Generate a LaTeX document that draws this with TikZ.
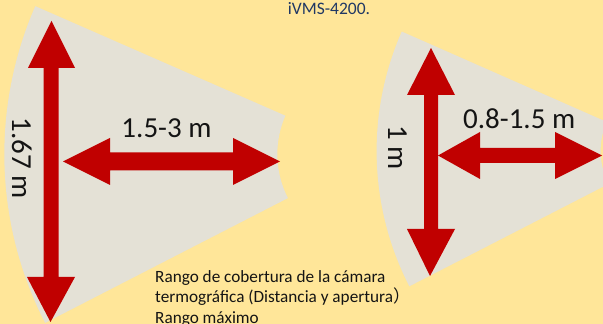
\documentclass[tikz,border=0pt]{standalone}
\usepackage{fontspec}
\usetikzlibrary{calc}
\setmainfont{Carlito}
\newfontfamily\cjkfont{Noto Sans CJK SC}
\definecolor{bgyellow}{RGB}{255,230,153}
\definecolor{fangray}{RGB}{228,225,214}
\definecolor{arrowred}{RGB}{192,0,0}
\definecolor{titleblue}{RGB}{32,56,100}
\definecolor{txtdark}{RGB}{20,20,20}
\tikzset{
  fan/.style={fill=fangray, draw=none},
  redarrow/.style={fill=arrowred, draw=none},
  biglabel/.style={inner sep=0pt, font=\fontsize{29}{34}\selectfont, text=txtdark},
  smalltext/.style={inner sep=0pt, font=\fontsize{17.2}{20.8}\selectfont, text=txtdark, align=left}
}
\begin{document}
\begin{tikzpicture}[x=1pt,y=1pt]
\useasboundingbox (0,0) rectangle (603,324);
\fill[bgyellow] (0,0) rectangle (603,324);
\clip (0,0) rectangle (603,324);
% left fan
\coordinate (apexL) at (373.3,169.8);
\fill[fan] ($(apexL)+(156.35:369pt)$) arc[start angle=156.35, end angle=207.2, radius=369pt]
  -- ($(apexL)+(207.2:96pt)$) arc[start angle=207.2, end angle=156.35, radius=96pt] -- cycle;
% right fan
\coordinate (apexR) at (672.6,173);
\fill[fan] ($(apexR)+(156.2:296pt)$) arc[start angle=156.2, end angle=207.2, radius=296pt]
  -- ($(apexR)+(207.2:72pt)$) arc[start angle=207.2, end angle=156.2, radius=72pt] -- cycle;
% left vertical arrow
\fill[redarrow] (51.5,303) -- (75,256) -- (58.5,256) -- (58.5,47) -- (75,47) -- (50.5,2)
  -- (27,47) -- (43.5,47) -- (43.5,256) -- (28,256) -- cycle;
% left horizontal arrow
\fill[redarrow] (63,162.5) -- (110,186) -- (110,171.5) -- (233,171.5) -- (233,186) -- (280,162.5)
  -- (233,139) -- (233,153.5) -- (110,153.5) -- (110,139) -- cycle;
% right vertical arrow
\fill[redarrow] (431,276) -- (455,229) -- (438,229) -- (438,95) -- (455,95) -- (430,48)
  -- (407,95) -- (424,95) -- (424,229) -- (407,229) -- cycle;
% right horizontal arrow
\fill[redarrow] (438,168.5) -- (480,192) -- (480,176) -- (555,176) -- (555,192) -- (602,168.5)
  -- (555,145) -- (555,161) -- (480,161) -- (480,145) -- cycle;
% labels
\node[biglabel] (lblA) at (166.5,196) {1.5-3 m};
\node[biglabel, rotate=-90] (lblB) at (21.7,165.7) {1.67 m};
\node[biglabel] (lblC) at (519.2,205.7) {0.8-1.5 m};
\node[biglabel, rotate=-90] (lblD) at (397.5,176.5) {1 m};
\node[smalltext, anchor=base west] (caption) at (155,0.3)
  {Rango de cobertura de la cámara\\termográfica (Distancia y apertura{\cjkfont ）}\\Rango máximo};
\node[inner sep=0pt, anchor=base, font=\fontsize{17.5}{20}\selectfont, text=titleblue] (title) at (329,309) {iVMS-4200.};
\end{tikzpicture}
\end{document}
